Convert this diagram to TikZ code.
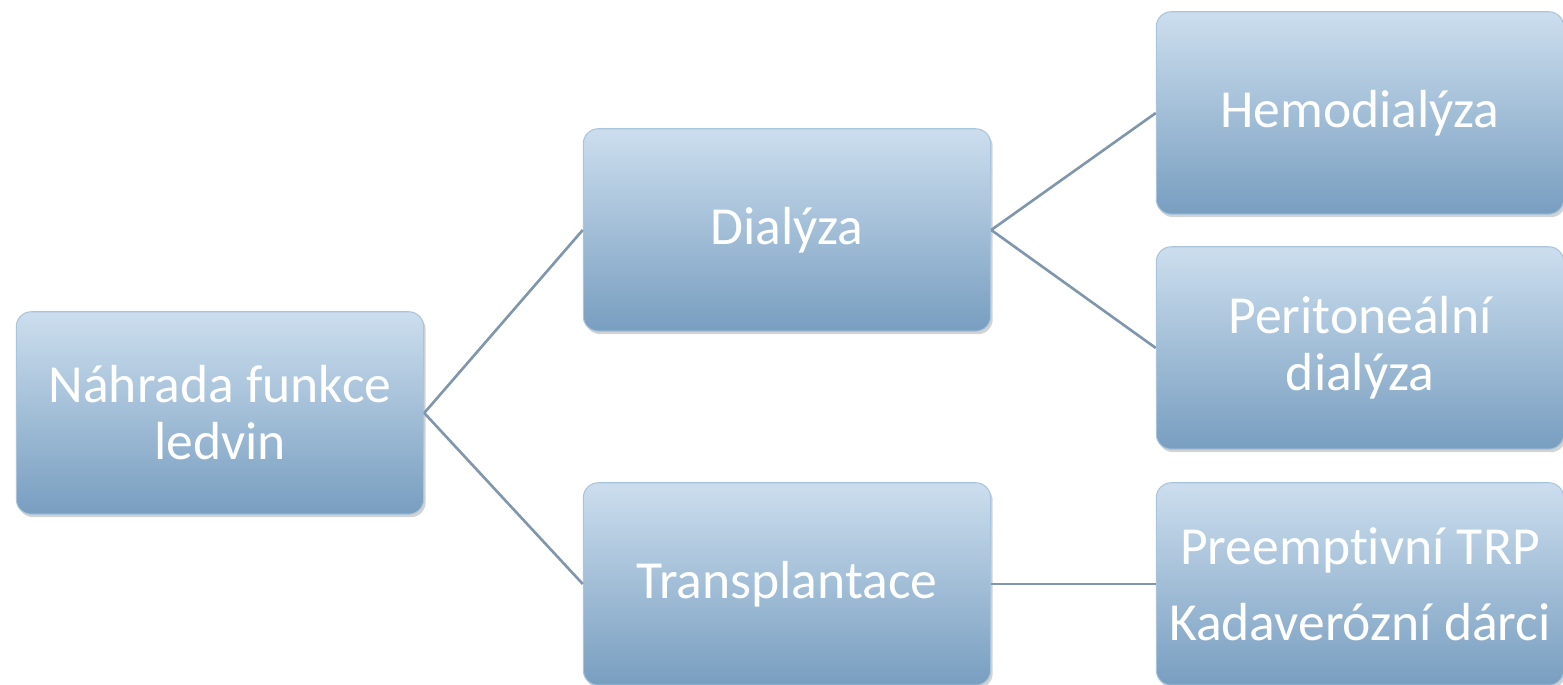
\documentclass[tikz,border=0pt]{standalone}
\usepackage{fontspec}
\setmainfont[Ligatures=NoCommon]{Carlito}
\usetikzlibrary{shadows}
\definecolor{boxtop}{RGB}{204,222,238}
\definecolor{boxbot}{RGB}{120,158,192}
\definecolor{boxrim}{RGB}{170,196,220}
\definecolor{linkcol}{RGB}{128,150,172}
\begin{document}
\begin{tikzpicture}[x=0.02cm, y=-0.02cm,
  box/.style={rectangle, rounded corners=0.3cm, minimum width=8.15cm, minimum height=4.05cm,
    top color=boxtop, bottom color=boxbot, draw=boxrim, line width=0.6pt,
    text=white, align=center, font=\fontsize{30.5}{32.5}\selectfont,
    drop shadow={shadow xshift=0.04cm, shadow yshift=-0.06cm, opacity=0.35}},
  link/.style={draw=linkcol, line width=1.5pt}]
\useasboundingbox (0,0) rectangle (1563,685);
\node[box] (nahrada) at (220,413) {Náhrada funkce\\ledvin};
\node[box] (dialyza) at (787,230) {Dialýza};
\node[box] (transpl) at (787,584) {Transplantace};
\node[box] (hemo) at (1360,113) {Hemodialýza};
\node[box] (perit) at (1360,348) {Peritoneální\\dialýza};
\node[box] (trp) at (1360,584) {Preemptivní TRP\\[0.38cm]Kadaverózní dárci};
% spojnice
\draw[link] (nahrada.east) -- (dialyza.west);
\draw[link] (nahrada.east) -- (transpl.west);
\draw[link] (dialyza.east) -- (hemo.west);
\draw[link] (dialyza.east) -- (perit.west);
\draw[link] (transpl.east) -- (trp.west);
\end{tikzpicture}
\end{document}
